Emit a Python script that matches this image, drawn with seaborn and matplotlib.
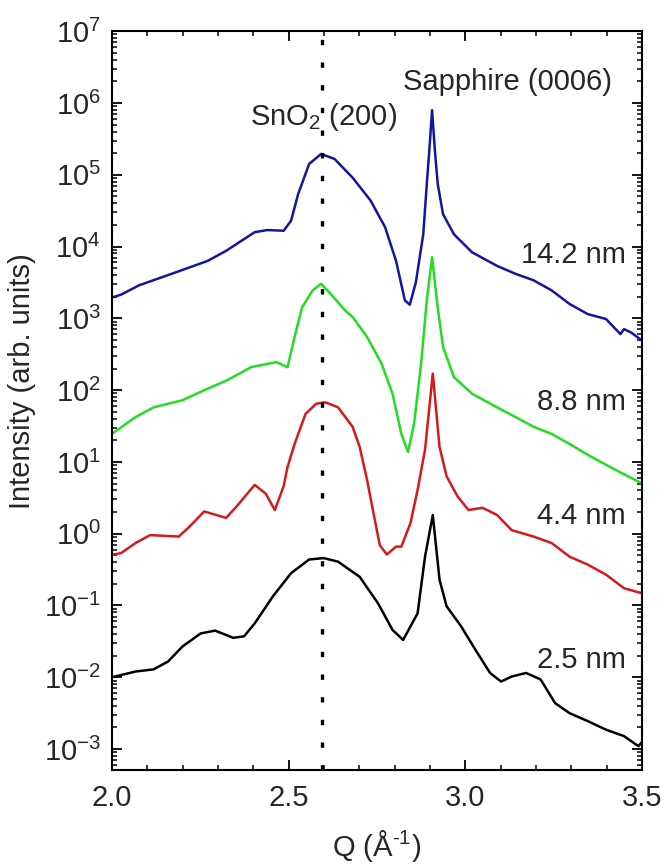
import numpy as np
import pandas as pd
import matplotlib
matplotlib.use("Agg")
import matplotlib.pyplot as plt
import matplotlib.ticker as mticker
import seaborn as sns

# ---------------- data ----------------
# Q values (1/Angstrom) and log10(intensity) for each film thickness
q_blue = [2.000, 2.026, 2.077, 2.169, 2.271, 2.323, 2.404, 2.440, 2.486, 2.507, 2.527,
          2.558, 2.592, 2.630, 2.681, 2.732, 2.773, 2.804, 2.829, 2.843, 2.860, 2.881,
          2.891, 2.898, 2.906, 2.914, 2.922, 2.937, 2.968, 3.019, 3.090, 3.142, 3.193,
          3.244, 3.295, 3.346, 3.398, 3.439, 3.449, 3.470, 3.500]
log_blue = [3.29, 3.33, 3.46, 3.62, 3.80, 3.94, 4.20, 4.23, 4.22, 4.36, 4.73,
            5.15, 5.29, 5.22, 4.96, 4.64, 4.27, 3.80, 3.25, 3.19, 3.50, 4.17,
            4.87, 5.33, 5.90, 5.33, 4.87, 4.45, 4.17, 3.92, 3.73, 3.62, 3.53,
            3.39, 3.20, 3.06, 2.99, 2.78, 2.85, 2.80, 2.69]

q_green = [2.000, 2.067, 2.118, 2.200, 2.271, 2.323, 2.394, 2.466, 2.497, 2.517, 2.538,
           2.568, 2.592, 2.619, 2.660, 2.681, 2.722, 2.763, 2.794, 2.819, 2.838, 2.855,
           2.875, 2.891, 2.906, 2.922, 2.937, 2.968, 3.019, 3.090, 3.142, 3.193, 3.244,
           3.295, 3.346, 3.398, 3.460, 3.500]
log_green = [1.39, 1.625, 1.76, 1.86, 2.02, 2.13, 2.32, 2.39, 2.32, 2.74, 3.15,
             3.39, 3.48, 3.34, 3.11, 3.02, 2.74, 2.37, 1.95, 1.39, 1.14, 1.53,
             2.37, 3.25, 3.85, 3.15, 2.60, 2.18, 1.95, 1.76, 1.625, 1.49, 1.39,
             1.25, 1.10, 0.96, 0.80, 0.70]

q_red = [2.000, 2.026, 2.067, 2.108, 2.189, 2.220, 2.261, 2.323, 2.353, 2.404, 2.435,
         2.461, 2.486, 2.497, 2.517, 2.548, 2.578, 2.604, 2.640, 2.681, 2.701, 2.722,
         2.742, 2.758, 2.778, 2.804, 2.819, 2.845, 2.865, 2.886, 2.908, 2.927, 2.947,
         2.978, 3.009, 3.049, 3.090, 3.131, 3.193, 3.244, 3.295, 3.346, 3.398, 3.449,
         3.500]
log_red = [-0.295, -0.27, -0.13, -0.02, -0.04, 0.10, 0.31, 0.22, 0.38, 0.68, 0.56,
           0.33, 0.66, 0.93, 1.25, 1.67, 1.81, 1.83, 1.76, 1.49, 1.21, 0.75,
           0.24, -0.16, -0.29, -0.18, -0.18, 0.15, 0.61, 1.17, 2.23, 1.21, 0.80,
           0.52, 0.33, 0.36, 0.26, 0.05, -0.04, -0.13, -0.32, -0.43, -0.57, -0.76,
           -0.83]

q_black = [2.000, 2.067, 2.118, 2.159, 2.200, 2.251, 2.292, 2.343, 2.374, 2.404, 2.456,
           2.507, 2.558, 2.599, 2.640, 2.701, 2.753, 2.794, 2.824, 2.845, 2.865, 2.886,
           2.908, 2.927, 2.947, 2.988, 3.029, 3.070, 3.101, 3.131, 3.172, 3.213, 3.254,
           3.295, 3.346, 3.398, 3.449, 3.490, 3.500]
log_black = [-2.00, -1.92, -1.89, -1.78, -1.57, -1.39, -1.35, -1.45, -1.43, -1.25, -0.87,
             -0.55, -0.36, -0.34, -0.39, -0.60, -0.97, -1.34, -1.48, -1.29, -1.11, -0.32,
             0.26, -0.64, -1.01, -1.29, -1.62, -1.94, -2.06, -1.99, -1.94, -2.03, -2.36,
             -2.50, -2.61, -2.73, -2.82, -2.96, -2.90]

thickness_labels = ["14.2 nm", "8.8 nm", "4.4 nm", "2.5 nm"]
label_log_y = [3.88, 1.84, 0.245, -1.76]
colors = ["#1414A0", "#22DD22", "#D41A1A", "#000000"]
snO2_q = 2.595

# ---------------- style ----------------
sns.set_style("ticks")
plt.rcParams["font.family"] = ["Liberation Sans", "DejaVu Sans"]
plt.rcParams["mathtext.fontset"] = "custom"
plt.rcParams["mathtext.rm"] = "Liberation Sans"
plt.rcParams["mathtext.it"] = "Liberation Sans:italic"
plt.rcParams["mathtext.bf"] = "Liberation Sans:bold"
FS = 21

frames = []
for name, q, lg in zip(thickness_labels,
                       [q_blue, q_green, q_red, q_black],
                       [log_blue, log_green, log_red, log_black]):
    frames.append(pd.DataFrame({"Q": q, "I": np.power(10.0, lg), "t": name}))
df = pd.concat(frames, ignore_index=True)

fig = plt.figure(figsize=(6.66, 8.66), dpi=100)
ax = fig.add_axes([0.168, 0.111, 0.796, 0.853])

sns.lineplot(data=df, x="Q", y="I", hue="t", palette=dict(zip(thickness_labels, colors)),
             estimator=None, sort=False, linewidth=1.8, legend=False, ax=ax)

ax.axvline(snO2_q, color="black", linestyle=(0, (1.6, 5.2)), linewidth=2.4, zorder=5)

ax.set_yscale("log")
ax.set_xlim(2.0, 3.5)
ax.set_ylim(10 ** -3.29, 1e7)

ax.xaxis.set_major_locator(mticker.MultipleLocator(0.5))
ax.xaxis.set_minor_locator(mticker.MultipleLocator(0.1))
ax.xaxis.set_major_formatter(mticker.FormatStrFormatter("%.1f"))
ax.yaxis.set_major_locator(mticker.LogLocator(base=10, numticks=30))
ax.yaxis.set_minor_locator(mticker.LogLocator(base=10, subs=np.arange(2, 10) * 1.0, numticks=30))
ax.yaxis.set_minor_formatter(mticker.NullFormatter())

ax.tick_params(which="both", direction="in", top=True, right=True, labelsize=FS, color="black")
ax.tick_params(which="major", length=7.5, width=1.3)
ax.tick_params(which="minor", length=3.8, width=1.1)
ax.tick_params(axis="x", which="major", pad=10)
ax.tick_params(axis="y", which="major", pad=8)
for s in ax.spines.values():
    s.set_linewidth(1.5)
    s.set_color("black")

ax.set_xlabel("")
ax.set_ylabel("")
fig.text(22 / 666, 1 - 381 / 866, "Intensity (arb. units)", rotation=90,
         ha="center", va="center", fontsize=FS)
fig.text(377 / 666, 1 - 846 / 866, "Q (Å$^{\\text{-1}}$)", ha="center", va="center", fontsize=FS)

ax.text(3.12, 10 ** 6.29, "Sapphire (0006)", ha="center", va="center", fontsize=FS)
ax.text(2.598, 10 ** 5.80, "SnO$_2$ (200)", ha="center", va="center", fontsize=FS)
for lab, ly in zip(thickness_labels, label_log_y):
    ax.text(3.454, 10 ** ly, lab, ha="right", va="center", fontsize=FS)

fig.savefig("out.png", dpi=100)
